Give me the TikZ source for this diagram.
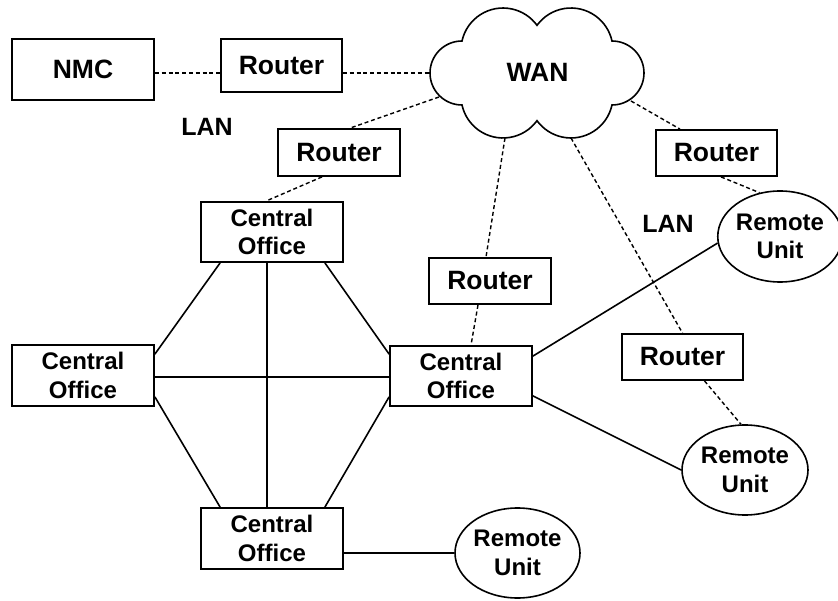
\documentclass[tikz,border=0pt]{standalone}
\usepackage{fontspec}
\setmainfont{Liberation Sans}
\usetikzlibrary{shapes.geometric}
\tikzset{
  boxfont/.style={font=\fontsize{26.5}{31}\selectfont\bfseries},
  cofont/.style={font=\fontsize{24}{28.5}\selectfont\bfseries},
  nodebox/.style={draw, line width=1.8pt, inner sep=0pt, align=center},
  routerbox/.style={nodebox, boxfont, minimum width=121pt, minimum height=46pt},
  cobox/.style={nodebox, cofont, minimum width=142pt, minimum height=60pt},
  remote/.style={draw, ellipse, line width=1.6pt, inner sep=0pt, align=center, cofont, minimum width=124pt, minimum height=90pt},
  label/.style={inner sep=0pt, font=\fontsize{25}{30}\selectfont\bfseries},
  dashline/.style={line width=1.4pt, dash pattern=on 4pt off 2.8pt},
  solidline/.style={line width=1.6pt}
}
\begin{document}
\begin{tikzpicture}[x=1pt,y=-1pt]
\useasboundingbox[fill=white] (0,0) rectangle (838,601);
% cloud
\draw[line width=1.6pt, fill=white] (462,105)
  arc[start angle=90,end angle=270,radius=32]
  arc[start angle=192.4,end angle=324,radius=42]
  arc[start angle=216,end angle=347.6,radius=42]
  arc[start angle=-90,end angle=90,radius=32]
  arc[start angle=12.4,end angle=144,radius=42]
  arc[start angle=36,end angle=167.6,radius=42] -- cycle;
\node[label, font=\fontsize{26.5}{31}\selectfont\bfseries] (wan) at (537.5,72.5) {WAN};
\coordinate (wanW) at (430,73);
\coordinate (wanSW) at (439,97);
\coordinate (wanB1) at (505,138);
\coordinate (wanB2) at (571,138);
\coordinate (wanE) at (631,101);

% boxes
\node[nodebox, boxfont, minimum width=142pt, minimum height=61pt] (nmc) at (83,69.5) {NMC};
\node[routerbox, minimum height=53pt] (r1) at (281.5,65.5) {Router};
\node[routerbox, minimum width=122pt, minimum height=47pt] (r2) at (339,152.5) {Router};
\node[routerbox] (r3) at (716.5,153) {Router};
\node[routerbox, minimum width=122pt] (r4) at (490,281) {Router};
\node[routerbox] (r5) at (682.5,357) {Router};

\node[cobox] (cot) at (272,232) {Central\\Office};
\node[cobox, minimum height=61pt] (col) at (83,375.5) {Central\\Office};
\node[cobox] (cor) at (461,376) {Central\\Office};
\node[cobox, minimum height=61pt] (cob) at (272,538.5) {Central\\Office};

\node[remote, minimum width=122pt, minimum height=91pt] (ru1) at (780,236.5) {Remote\\Unit};
\node[remote, minimum width=126pt] (ru2) at (745,470) {Remote\\Unit};
\node[remote, minimum width=125pt] (ru3) at (517.5,553) {Remote\\Unit};

\node[label] (lan1) at (207,126.5) {LAN};
\node[label] (lan2) at (668,224) {LAN};

% dashed connectors
\draw[dashline] (nmc.east |- wanW) -- (r1.west |- wanW);
\draw[dashline] (r1.east |- wanW) -- (wanW);
\draw[dashline] (wanSW) -- ([xshift=11pt]r2.north);
\draw[dashline] ([xshift=-17pt]r2.south) -- ([xshift=-6pt]cot.north);
\draw[dashline] (wanB1) -- ([xshift=-4pt]r4.north);
\draw[dashline] ([xshift=-12pt]r4.south) -- ([xshift=10pt]cor.north);
\draw[dashline] (wanB2) -- (r5.north);
\draw[dashline] ([xshift=22pt]r5.south) -- (ru2.95);
\draw[dashline] (wanE) -- ([xshift=-36.5pt]r3.north);
\draw[dashline] ([xshift=4.5pt]r3.south) -- (ru1.115);

% solid connectors
\draw[solidline] ([xshift=20pt]cot.south west) -- ([yshift=-10pt]col.north east);
\draw[solidline] ([xshift=-5pt]cot.south) -- ([xshift=-5pt]cob.north);
\draw[solidline] ([xshift=-19pt]cot.south east) -- ([yshift=-9pt]cor.north west);
\draw[solidline] ([yshift=-1.5pt]col.east) -- ([yshift=-1pt]cor.west);
\draw[solidline] ([yshift=10pt]col.south east) -- ([xshift=20pt]cob.north west);
\draw[solidline] ([yshift=10pt]cor.south west) -- ([xshift=-19pt]cob.north east);
\draw[solidline] ([yshift=-11pt]cor.north east) -- (ru1.186);
\draw[solidline] ([yshift=11pt]cor.south east) -- (ru2.west);
\draw[solidline] (ru3.west -| cob.east) -- (ru3.west);
\end{tikzpicture}
\end{document}
